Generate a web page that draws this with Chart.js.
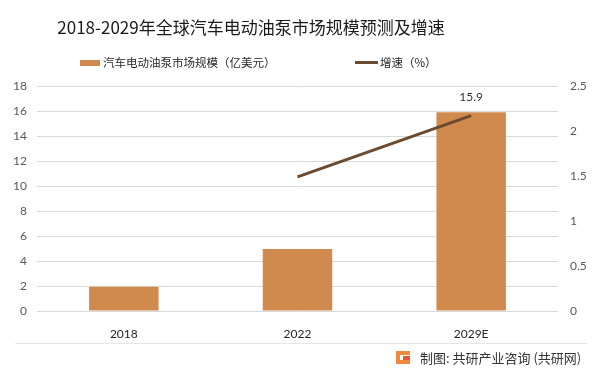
<!DOCTYPE html>
<html>
<head>
<meta charset="utf-8">
<script src="https://cdn.jsdelivr.net/npm/chart.js@4.4.1/dist/chart.umd.min.js"></script>
<style>
  html, body { margin: 0; padding: 0; background: #fff; }
  #wrap { width: 600px; height: 371px; }
</style>
</head>
<body>
<div id="wrap"><canvas id="chart" width="600" height="371"></canvas></div>
<script>
// data
var years = ['2018', '2022', '2029E'];
var marketSize = [1.95, 4.96, 15.9];      // 亿美元
var growthRate = [null, 1.49, 2.17];      // %
var sizeLabels = [null, null, '15.9'];    // only the last bar carries a label

var titleText = '2018-2029年全球汽车电动油泵市场规模预测及增速';
var barLegend = '汽车电动油泵市场规模（亿美元）';
var lineLegend = '增速（%）';
var footerText = '制图: 共研产业咨询 (共研网)';

var BAR_COLOR = '#D08A4E';
var LINE_COLOR = '#6B4A2F';
var CJK = '"Noto Sans CJK SC", "Microsoft YaHei", sans-serif';
var NUM = 'Lato, "Noto Sans CJK SC", sans-serif';

var decor = {
    id: 'decor',
    afterDraw: function (chart) {
        var ctx = chart.ctx;
        ctx.save();

        // title
        ctx.fillStyle = '#1a1a1a';
        ctx.font = '17px ' + CJK;
        ctx.textAlign = 'center';
        ctx.textBaseline = 'middle';
        ctx.fillText(titleText, 251, 28);

        // legend
        ctx.font = '11.5px ' + CJK;
        ctx.textAlign = 'left';
        ctx.fillStyle = BAR_COLOR;
        ctx.fillRect(80, 60, 20, 6);
        ctx.fillStyle = '#262626';
        ctx.fillText(barLegend, 103, 63);
        ctx.strokeStyle = LINE_COLOR;
        ctx.lineWidth = 3;
        ctx.beginPath();
        ctx.moveTo(355, 62.5);
        ctx.lineTo(378, 62.5);
        ctx.stroke();
        ctx.fillText(lineLegend, 380, 63);

        // value label above the bar
        var meta = chart.getDatasetMeta(1);
        ctx.font = '12px ' + NUM;
        ctx.textAlign = 'center';
        ctx.fillStyle = '#333';
        meta.data.forEach(function (el, i) {
            if (sizeLabels[i]) {
                ctx.fillText(sizeLabels[i], el.x, el.y - 15);
            }
        });

        // separator line and source
        ctx.strokeStyle = '#e6e6e6';
        ctx.lineWidth = 1;
        ctx.beginPath();
        ctx.moveTo(15, 343.5);
        ctx.lineTo(587, 343.5);
        ctx.stroke();

        // small logo
        ctx.fillStyle = '#F08A3C';
        ctx.fillRect(396, 351, 14, 4);
        ctx.fillRect(396, 351, 4, 13);
        ctx.fillRect(396, 360, 14, 4);
        ctx.fillStyle = '#E4572E';
        ctx.fillRect(403, 356, 7, 4);

        ctx.fillStyle = '#333';
        ctx.font = '13px ' + CJK;
        ctx.textAlign = 'left';
        ctx.fillText(footerText, 420, 358);

        ctx.restore();
    }
};

new Chart(document.getElementById('chart'), {
    data: {
        labels: years,
        datasets: [{
            type: 'line',
            label: lineLegend,
            data: growthRate,
            yAxisID: 'y1',
            borderColor: LINE_COLOR,
            borderWidth: 3,
            pointRadius: 0,
            spanGaps: false,
            order: 0
        }, {
            type: 'bar',
            label: barLegend,
            data: marketSize,
            yAxisID: 'y',
            backgroundColor: BAR_COLOR,
            categoryPercentage: 1,
            barPercentage: 0.4,
            order: 1
        }]
    },
    options: {
        responsive: false,
        animation: false,
        devicePixelRatio: 1,
        layout: { padding: { top: 86, bottom: 30, left: 0, right: 0 } },
        plugins: {
            legend: { display: false },
            title: { display: false },
            tooltip: { enabled: false }
        },
        scales: {
            x: {
                grid: { display: false },
                border: { display: false },
                ticks: { color: '#262626', font: { family: NUM, size: 12 }, padding: 8 },
                afterFit: function (s) { s.height = 30; }
            },
            y: {
                position: 'left',
                min: 0, max: 18,
                ticks: { stepSize: 2, color: '#595959', font: { family: NUM, size: 12 }, padding: 10 },
                grid: { color: '#d9d9d9', drawTicks: false },
                border: { display: false },
                afterFit: function (s) { s.width = 37; }
            },
            y1: {
                position: 'right',
                min: 0, max: 2.5,
                ticks: {
                    stepSize: 0.5, color: '#595959', font: { family: NUM, size: 12 }, padding: 12,
                    callback: function (v) { return String(v); }
                },
                grid: { display: false, drawTicks: false },
                border: { display: false },
                afterFit: function (s) { s.width = 42; }
            }
        }
    },
    plugins: [decor]
});
</script>
</body>
</html>
